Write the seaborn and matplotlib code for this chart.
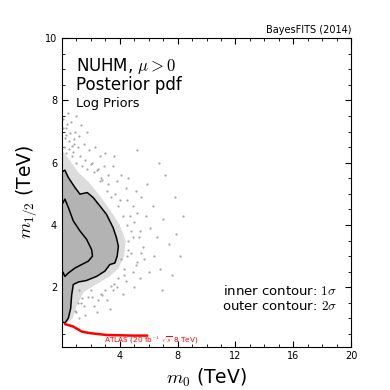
import numpy as np
import pandas as pd
import matplotlib
matplotlib.use("Agg")
import matplotlib.pyplot as plt
import seaborn as sns
from matplotlib.ticker import MultipleLocator

# 2 sigma (outer) contour, m0 / m12 in TeV
outer_m0 = [0.0, 0.2, 0.43, 0.9, 1.24, 1.75, 2.16, 2.62, 3.08, 3.54, 3.77, 3.9, 3.82, 3.66,
            3.31, 2.97, 2.39, 1.7, 1.13, 0.78, 0.67, 0.6, 0.44, 0.2, 0.0]
outer_m12 = [5.7, 5.76, 5.53, 5.2, 4.99, 5.04, 4.88, 4.61, 4.34, 3.91, 3.59, 3.32, 3.0, 2.78,
             2.73, 2.52, 2.35, 2.22, 2.17, 2.09, 1.76, 1.33, 1.01, 0.85, 0.9]

# 1 sigma (inner) contour
inner_m0 = [0.05, 0.2, 0.44, 0.78, 1.24, 1.7, 2.05, 2.11, 1.82, 1.36, 0.9, 0.44, 0.2, 0.05]
inner_m12 = [4.7, 4.83, 4.56, 4.13, 3.81, 3.54, 3.21, 3.0, 2.84, 2.73, 2.62, 2.46, 2.35, 2.5]

# dense part of the sample cloud just outside the 2 sigma line
dense_m0 = [0.0, 0.5, 1.1, 1.8, 2.6, 3.3, 4.0, 4.4, 4.3, 3.9, 3.3, 2.4, 1.5, 1.0, 0.75, 0.4, 0.0]
dense_m12 = [6.4, 6.1, 5.7, 5.4, 4.95, 4.5, 4.0, 3.5, 3.0, 2.6, 2.35, 2.1, 1.85, 1.4, 1.0, 0.86, 0.86]

# sparse samples around the cloud
pts_m0 = [0.1, 0.3, 0.6, 0.9, 1.3, 1.7, 0.2, 0.5, 0.8, 1.1, 1.5, 1.9, 2.3, 2.6, 0.4, 1.0,
          2.1, 2.5, 2.9, 3.2, 3.5, 3.8, 4.1, 3.0, 3.6, 4.4, 2.7,
          4.5, 4.9, 5.2, 5.5, 5.0, 5.4, 5.8, 6.1, 4.9, 5.6, 6.3, 6.6, 5.1, 4.6, 5.9,
          4.8, 5.2, 5.7, 6.0, 4.9, 4.4, 5.4, 6.4, 6.8, 3.8, 4.2, 5.0,
          1.3, 1.8, 2.2, 2.7, 3.1, 3.5, 1.0, 1.6, 2.4, 3.3, 2.0, 1.2,
          7.0, 7.4, 7.8, 8.2, 7.1, 6.9, 7.6, 8.4, 6.7, 5.2, 7.9,
          0.3, 0.7, 1.0, 1.4, 1.7, 2.2, 2.6, 3.1, 3.4, 3.9, 4.2, 4.5, 4.6, 4.5, 4.3, 3.9,
          3.0, 2.5, 1.5, 1.2, 0.15, 0.45, 0.75, 1.25, 1.6, 2.0, 2.4, 2.8, 3.2, 3.7, 4.0,
          4.7, 4.8, 4.6, 4.1, 3.6, 2.8, 2.1, 1.4, 1.1, 0.9, 5.3, 5.5, 5.1, 4.3, 3.4, 0.25,
          0.55, 0.85, 1.15, 0.1, 0.35, 0.7]
pts_m12 = [7.4, 7.1, 7.3, 7.0, 7.2, 7.0, 6.8, 6.7, 6.6, 6.5, 6.6, 6.4, 6.5, 6.2, 7.6, 7.5,
           6.0, 5.8, 5.9, 5.6, 5.9, 5.4, 5.6, 6.3, 6.2, 5.2, 5.5,
           4.8, 4.6, 4.4, 4.9, 4.1, 3.8, 4.3, 3.9, 3.6, 3.3, 4.6, 3.6, 5.1, 5.5, 5.3,
           3.1, 2.8, 2.9, 2.5, 2.5, 2.2, 2.3, 3.0, 2.6, 2.0, 1.8, 2.0,
           1.5, 1.7, 1.4, 1.8, 1.6, 1.9, 1.2, 1.1, 1.2, 1.3, 1.9, 1.9,
           4.2, 3.4, 4.9, 3.0, 5.6, 1.9, 2.4, 4.3, 6.0, 6.4, 3.7,
           6.3, 6.2, 6.0, 5.9, 5.8, 5.7, 5.4, 5.1, 4.9, 4.6, 4.3, 4.0, 3.5, 3.0, 2.6, 2.3,
           1.9, 1.6, 1.4, 1.0, 6.5, 6.45, 6.35, 6.2, 6.1, 5.95, 5.75, 5.45, 5.3, 5.0, 4.8,
           4.3, 3.8, 3.2, 2.9, 2.1, 1.75, 1.7, 1.65, 1.5, 1.25, 3.6, 3.1, 2.7, 2.4, 2.05, 6.9,
           6.95, 6.75, 6.85, 7.1, 7.25, 6.55]

# ATLAS 95% exclusion line
atlas_m0 = [0.2, 0.78, 1.36, 1.93, 3.08, 4.92, 5.9]
atlas_m12 = [0.82, 0.74, 0.58, 0.53, 0.47, 0.45, 0.45]

sns.set_style("ticks", {"xtick.direction": "in", "ytick.direction": "in"})
plt.rcParams["font.family"] = ["DejaVu Sans"]
plt.rcParams["mathtext.fontset"] = "cm"
plt.rcParams["text.color"] = "black"
plt.rcParams["axes.labelcolor"] = "black"
plt.rcParams["xtick.color"] = "black"
plt.rcParams["ytick.color"] = "black"

fig = plt.figure(figsize=(3.9, 3.9), dpi=100)
ax = fig.add_axes([0.159, 0.1115, 0.741, 0.791])

ax.fill(dense_m0, dense_m12, color="#dcdcdc", lw=0, zorder=1)
ax.fill(outer_m0, outer_m12, color="#b3b3b3", lw=0, zorder=2)
pts = pd.DataFrame({"m0": pts_m0, "m12": pts_m12})
sns.scatterplot(data=pts, x="m0", y="m12", color="#a6a6a6", s=2.5, linewidth=0, ax=ax, zorder=1)

outer = pd.DataFrame({"m0": outer_m0, "m12": outer_m12})
inner = pd.DataFrame({"m0": inner_m0, "m12": inner_m12})
atlas = pd.DataFrame({"m0": atlas_m0, "m12": atlas_m12})
sns.lineplot(data=outer, x="m0", y="m12", sort=False, estimator=None, color="black", lw=1.1, ax=ax, zorder=3)
sns.lineplot(data=inner, x="m0", y="m12", sort=False, estimator=None, color="black", lw=1.1, ax=ax, zorder=3)
sns.lineplot(data=atlas, x="m0", y="m12", sort=False, estimator=None, color="red", lw=1.8, ax=ax, zorder=3)

ax.text(2.9, 0.3, r"ATLAS (20 fb$^{-1}$ $\sqrt{s}$ 8 TeV)", color="red", fontsize=5.3, va="center")

ax.set_xlim(0, 20)
ax.set_ylim(0.1, 10)
ax.set_xticks([4, 8, 12, 16, 20])
ax.set_yticks([2, 4, 6, 8, 10])
ax.xaxis.set_minor_locator(MultipleLocator(1))
ax.yaxis.set_minor_locator(MultipleLocator(0.5))
ax.tick_params(which="both", direction="in", top=True, right=True, labelsize=7, colors="black")
ax.tick_params(which="major", length=4)
ax.tick_params(which="minor", length=2)
for s in ax.spines.values():
    s.set_color("black")

ax.set_xlabel(r"$m_0$ (TeV)", fontsize=13.5)
ax.set_ylabel(r"$m_{1/2}$ (TeV)", fontsize=13.5)

ax.text(1.0, 8.94, r"NUHM, $\mu>0$", fontsize=12, va="baseline")
ax.text(1.0, 8.34, "Posterior pdf", fontsize=12, va="baseline")
ax.text(1.0, 7.78, "Log Priors", fontsize=9.3, va="baseline")
ax.text(19.05, 1.88, r"inner contour: $1\sigma$", fontsize=9.5, ha="right", va="center")
ax.text(19.05, 1.39, r"outer contour: $2\sigma$", fontsize=9.5, ha="right", va="center")
ax.text(1.0, 1.01, "BayesFITS (2014)", transform=ax.transAxes, ha="right", va="bottom", fontsize=7)

fig.savefig("out.png", dpi=100)
